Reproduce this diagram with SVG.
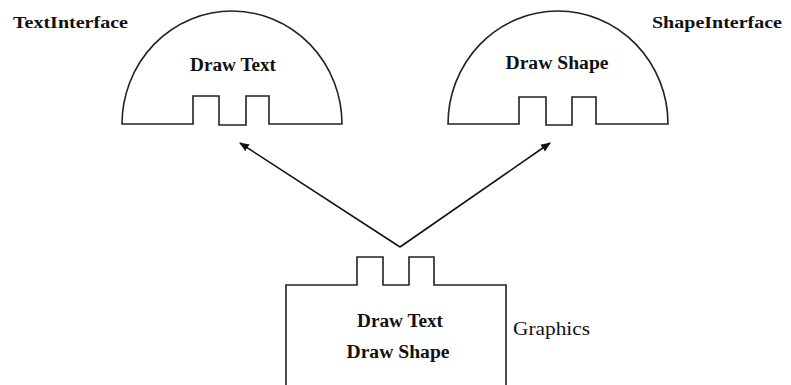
<svg xmlns="http://www.w3.org/2000/svg" width="791" height="385" viewBox="0 0 791 385">
<style>
.shape{fill:none;stroke:#222;stroke-width:1.6}
.lbl{font-family:"Liberation Serif",serif;font-weight:bold;font-size:17px;fill:#111}
.reg{font-family:"Liberation Serif",serif;font-size:18px;fill:#111}
.in{font-family:"Liberation Serif",serif;font-weight:bold;font-size:18px;fill:#111;text-anchor:middle}
.conn{fill:none;stroke:#111;stroke-width:1.6}
</style>
<defs>
<marker id="ah" viewBox="0 0 10 10" refX="9" refY="5" markerWidth="10" markerHeight="10" markerUnits="userSpaceOnUse" orient="auto"><path d="M0,1 L10,5 L0,9 Z" fill="#111"/></marker>
</defs>
<rect width="791" height="385" fill="#fff"/>
<g id="TextInterface">
<path class="shape" d="M122,124 A110,113 0 0 1 342,124 L269,124 L269,96 L246,96 L246,125 L219,125 L219,96 L193,96 L193,124 Z"/>
<text class="in" x="233" y="71" textLength="86" lengthAdjust="spacingAndGlyphs">Draw Text</text>
<text class="lbl" x="13" y="28" textLength="115" lengthAdjust="spacingAndGlyphs">TextInterface</text>
</g>
<g id="ShapeInterface">
<path class="shape" d="M448,124 A110,113 0 0 1 668,124 L596,124 L596,97 L572,97 L572,125 L546,125 L546,97 L519,97 L519,124 Z"/>
<text class="in" x="557" y="69" textLength="103" lengthAdjust="spacingAndGlyphs">Draw Shape</text>
<text class="lbl" x="652" y="28" textLength="130" lengthAdjust="spacingAndGlyphs">ShapeInterface</text>
</g>
<g id="Graphics">
<path class="shape" d="M286,386 L286,285 L357,285 L357,257 L383,257 L383,285 L409,285 L409,257 L434,257 L434,285 L506,285 L506,386"/>
<text class="in" x="400" y="327" textLength="86" lengthAdjust="spacingAndGlyphs">Draw Text</text>
<text class="in" x="398" y="358" textLength="103" lengthAdjust="spacingAndGlyphs">Draw Shape</text>
<text class="reg" x="513" y="335" textLength="77" lengthAdjust="spacingAndGlyphs">Graphics</text>
</g>
<g id="connectors">
<path class="conn" d="M400,247 L240,143" marker-end="url(#ah)"/>
<path class="conn" d="M400,247 L550,143" marker-end="url(#ah)"/>
</g>
</svg>
